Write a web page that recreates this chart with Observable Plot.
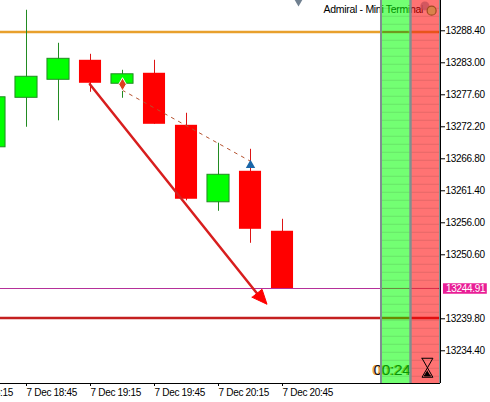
<!DOCTYPE html>
<html><head><meta charset="utf-8">
<script src="https://cdn.jsdelivr.net/npm/d3@7"></script>
<script src="https://cdn.jsdelivr.net/npm/@observablehq/plot@0.6"></script>
<style>html,body{margin:0;padding:0;background:#fff;overflow:hidden}svg{display:block}</style>
</head><body><div id="c"></div>
<script>
const bars   = [0,1,2,3,4,5,6,7,8,9];
const opens  = [13268.74,13277.09,13280.13,13283.42,13279.46,13281.23,13272.45,13259.46,13264.69,13254.57];
const closes = [13277.18,13280.64,13283.67,13279.54,13281.06,13272.62,13259.97,13264.10,13254.90,13244.91];
const highs  = [13279.00,13291.86,13286.29,13284.43,13281.73,13283.42,13274.48,13269.42,13268.40,13256.59];
const lows   = [13266.00,13272.12,13273.21,13278.02,13277.01,13272.62,13259.71,13257.94,13252.54,13244.91];
const priceTicks = [13288.40,13283.00,13277.60,13272.20,13266.80,13261.40,13256.00,13250.60,13239.80,13234.40];
const timeTicks  = [-1,1,3,5,7,9];
const timeLabels = ["7 Dec 18:15","7 Dec 18:45","7 Dec 19:15","7 Dec 19:45","7 Dec 20:15","7 Dec 20:45"];
const stripes = [13292.2,13290.85,13289.5,13288.15,13286.8,13285.45,13284.1,13282.75,13281.4,13280.05,13278.7,13277.35,13276,13274.65,13273.3,13271.95,13270.6,13269.25,13267.9,13266.55,13265.2,13263.85,13262.5,13261.15,13259.8,13258.45,13257.1,13255.75,13254.4,13253.05,13251.7,13250.35,13249,13247.65,13246.3,13244.95,13243.6,13242.25,13240.9,13239.55,13238.2,13236.85,13235.5,13234.15,13232.8,13231.45,13230.1];
const orangeLevel = 13288.194, redLevel = 13239.93, lastPrice = 13244.91;
const trendX = [2.98,8.2], trendY = [13279.37,13244.1];
const headX = [8.05,8.36,8.516,8.05], headY = [13243.43,13244.78,13242.25,13243.43];
const dotX = [4,8], dotY = [13278.36,13266.38];
const glassX = [13.36,13.7,13.36,13.7,13.36], glassY = [13233.14,13233.14,13229.93,13229.93,13233.14];
const sandX = [13.53,13.43,13.63], sandY = [13231.0,13230.15,13230.15];

const candles = bars.map((b,i)=>({b,o:opens[i],c:closes[i],h:highs[i],l:lows[i]}));
const up = candles.filter(d=>d.c>=d.o), down = candles.filter(d=>d.c<d.o);
const pts = (xs,ys)=>xs.map((x,i)=>({x,y:ys[i]}));
const w = 0.345;
const font = "'Liberation Sans', sans-serif";
const yMin = 13228.88, yMax = 13293.51;

const chart = Plot.plot({
  width:490,height:402,marginLeft:0,marginRight:50,marginTop:0,marginBottom:19,
  style:{fontFamily:font,fontSize:"10px",background:"#fff",color:"#000",letterSpacing:"-0.3px"},
  x:{type:"linear",domain:[0.1875,13.9375],range:[0,440]},
  y:{domain:[yMin,yMax],range:[383,0]},
  marks:[
    Plot.ruleY([orangeLevel],{stroke:"#e8a02c",strokeWidth:2.6}),
    Plot.ruleY([lastPrice],{stroke:"#b5309a",strokeWidth:1}),
    Plot.ruleY([redLevel],{stroke:"#c42020",strokeWidth:2.6}),
    Plot.ruleX(up,{x:"b",y1:"l",y2:"h",stroke:"#228b22"}),
    Plot.ruleX(down,{x:"b",y1:"l",y2:"h",stroke:"#dd1515"}),
    Plot.rect(up,{x1:d=>d.b-w,x2:d=>d.b+w,y1:"o",y2:"c",fill:"#00ff00",stroke:"#228b22",strokeWidth:1}),
    Plot.rect(down,{x1:d=>d.b-w,x2:d=>d.b+w,y1:"o",y2:"c",fill:"#ff0000"}),
    Plot.line(pts(dotX,dotY),{x:"x",y:"y",stroke:"#b5522f",strokeDasharray:"3 5",strokeWidth:1}),
    Plot.line(pts(trendX,trendY),{x:"x",y:"y",stroke:"#d81e1e",strokeWidth:2.5}),
    Plot.line(pts(headX,headY),{x:"x",y:"y",stroke:"#ff0000",fill:"#ff0000",strokeWidth:1}),
    Plot.dot([{x:4,y:13279.37}],{x:"x",y:"y",symbol:"diamond",r:4,fill:"#dd4020",stroke:"#fff",strokeWidth:1}),
    Plot.dot([{x:8,y:13265.7}],{x:"x",y:"y",symbol:"triangle",r:3.5,fill:"#1a66a8"}),
    Plot.dot([{x:9.5,y:13293.6}],{x:"x",y:"y",symbol:"diamond",r:4,fill:"#708090"}),
    Plot.text(["Admiral - Mini Terminal"],{x:10.28,y:13291.9,text:d=>d,textAnchor:"start",fontSize:10.5,fill:"#000"}),
    Plot.text(["00:24"],{x:11.8,y:13231.2,text:d=>d,textAnchor:"start",fontSize:15.5,fill:"#e8a040"}),
    Plot.text(["00:24"],{x:11.84,y:13231.2,text:d=>d,textAnchor:"start",fontSize:15.5,fill:"#111"}),
    Plot.rect([0],{x1:12.08,x2:13,y1:yMin,y2:yMax,fill:"#00ff00",fillOpacity:0.55}),
    Plot.rect([0],{x1:13,x2:13.92,y1:yMin,y2:yMax,fill:"#ff0000",fillOpacity:0.55}),
    Plot.ruleY(stripes,{x1:12.08,x2:13.92,stroke:"#000",strokeOpacity:0.1}),
    Plot.ruleY([orangeLevel],{x1:12.15,x2:12.95,stroke:"#6f9a1e",strokeWidth:2}),
    Plot.ruleY([orangeLevel],{x1:13.05,x2:13.88,stroke:"#e8541c",strokeWidth:2}),
    Plot.ruleY([lastPrice],{x1:12.15,x2:12.95,stroke:"#6b8a40"}),
    Plot.ruleY([lastPrice],{x1:13.05,x2:13.88,stroke:"#d8304a"}),
    Plot.ruleY([redLevel],{x1:12.15,x2:12.95,stroke:"#6a8a00",strokeWidth:2}),
    Plot.ruleY([redLevel],{x1:13.05,x2:13.88,stroke:"#e01010",strokeWidth:2}),
    Plot.ruleX([12.078],{stroke:"#7f8f8f",strokeWidth:2}),
    Plot.ruleX([13],{stroke:"#7f8f8f",strokeWidth:2.4}),
    Plot.ruleX([13.906],{stroke:"#7f8f8f",strokeWidth:1}),
    Plot.dot([{x:13.45,y:13292.6}],{x:"x",y:"y",r:4.5,fill:"#c8505a",fillOpacity:.8}),
    Plot.dot([{x:13.66,y:13291.8}],{x:"x",y:"y",r:4.5,fill:"#d9824a",stroke:"#a04a20",strokeWidth:1.2}),
    Plot.line(pts(glassX,glassY),{x:"x",y:"y",stroke:"#000",strokeWidth:1}),
    Plot.line(pts(sandX,sandY),{x:"x",y:"y",stroke:"#000",fill:"#000",strokeWidth:1}),
    Plot.ruleX([13.9375],{stroke:"#000"}),
    Plot.ruleY([yMin],{stroke:"#000"}),
    Plot.rect([0],{x1:14.03,x2:15.4,y1:13243.94,y2:13245.71,fill:"#e91e96"}),
    Plot.text(["13244.91"],{x:14.72,y:lastPrice,text:d=>d,fill:"#fff",fontSize:10}),
    Plot.axisY(priceTicks,{anchor:"right",tickSize:4,tickPadding:1,tickFormat:d=>d.toFixed(2),label:null,fontSize:10}),
    Plot.axisX(timeTicks,{anchor:"bottom",tickSize:3,tickPadding:2,tickFormat:d=>timeLabels[timeTicks.indexOf(d)],textAnchor:"start",label:null,fontSize:10})
  ]
});
document.getElementById("c").append(chart);
</script></body></html>
